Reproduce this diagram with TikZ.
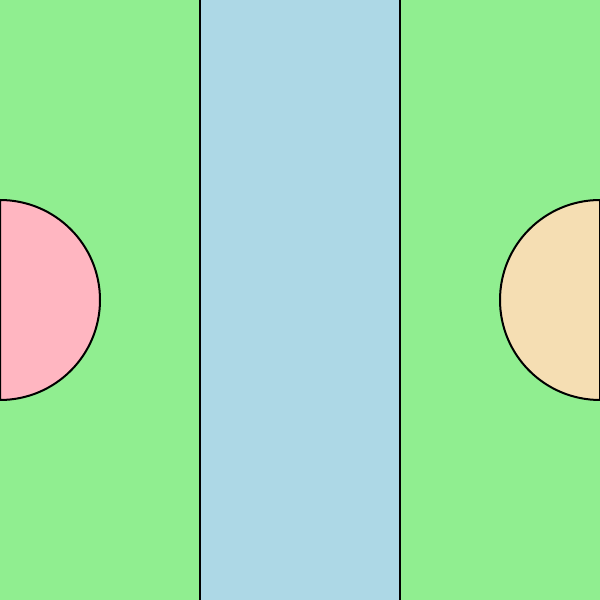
\documentclass[tikz,border=0pt]{standalone}
\definecolor{lgreen}{HTML}{90EE90}
\definecolor{lblue}{HTML}{ADD8E6}
\definecolor{lpink}{HTML}{FFB6C1}
\definecolor{lwheat}{HTML}{F5DEB3}
\tikzset{outlined/.style={draw=black,line width=0.02cm}}
\begin{document}
\begin{tikzpicture}
\useasboundingbox (0,0) rectangle (6,6);
\clip (0,0) rectangle (6,6);
\fill[lgreen] (0,0) rectangle (6,6);
\draw[outlined,fill=lblue] (2,-0.1) rectangle (4,6.1);
\draw[outlined,fill=lpink] (0,2) arc[start angle=-90,end angle=90,radius=1] -- cycle;
\draw[outlined,fill=lwheat] (6,2) arc[start angle=-90,end angle=-270,radius=1] -- cycle;
\end{tikzpicture}
\end{document}
